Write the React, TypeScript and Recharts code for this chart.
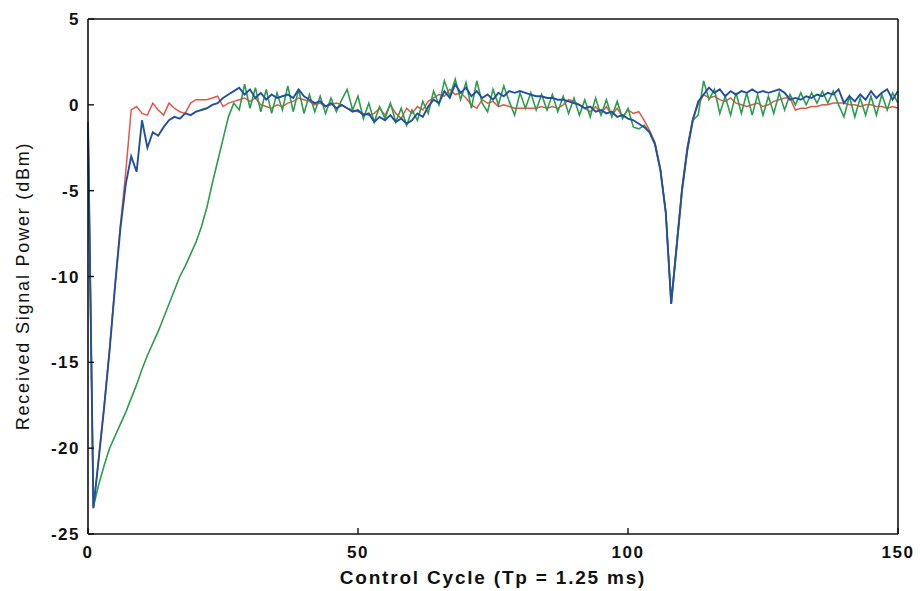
import React from 'react';
import { LineChart, Line, XAxis, YAxis } from 'recharts';

// received power per control cycle (dBm), cycles 0..150
const blue = [
  -1.0, -23.5, -20.6, -17.6, -14.3, -10.6, -7.2, -4.6, -3.0, -3.9,
  -0.9, -2.5, -1.6, -1.8, -1.3, -0.9, -0.7, -0.8, -0.5, -0.6,
  -0.4, -0.3, -0.2, 0.0, 0.1, 0.4, 0.6, 0.8, 1.0, 0.6,
  0.9, 0.4, 0.7, 0.3, 0.6, 0.4, 0.5, 0.6, 0.4, 0.9,
  0.5, 0.3, 0.1, 0.2, -0.1, 0.1, -0.2, 0.0, -0.2, -0.4,
  -0.3, -0.6, -0.5, -1.0, -0.7, -0.9, -0.6, -1.0, -0.8, -1.1,
  -0.9, -0.5, -0.7, -0.1, 0.3, 0.1, 0.8, 0.4, 1.2, 0.7,
  1.0, 0.5, 0.8, 0.4, 0.6, 0.3, 0.7, 0.5, 0.8, 0.7,
  0.8, 0.7, 0.6, 0.5, 0.5, 0.4, 0.4, 0.3, 0.3, 0.2,
  0.1, 0.0, -0.2, -0.1, -0.4, -0.3, -0.5, -0.4, -0.7, -0.6,
  -0.8, -0.9, -1.1, -1.3, -1.6, -2.3, -3.8, -6.3, -11.6, -8.3,
  -5.0, -2.6, -0.9, 0.2, 0.6, 1.0, 0.7, 0.9, 0.5, 0.8,
  0.6, 0.8, 0.7, 0.9, 0.7, 0.8, 0.7, 0.8, 0.9, 0.7,
  0.3, 0.4, 0.3, 0.5, 0.4, 0.6, 0.5, 0.7, 0.6, 0.9,
  0.1, 0.5, 0.2, 0.6, 0.3, 0.8, 0.4, 0.7, 0.9, 0.3,
  0.8,
];

const red = [
  -1.0, -23.5, -20.5, -17.5, -14.2, -10.5, -7.0, -3.9, -0.3, -0.1,
  -0.5, -0.6, 0.1, -0.3, -0.6, 0.1, -0.2, -0.4, -0.5, 0.1,
  0.3, 0.3, 0.3, 0.4, 0.5, -0.1, 0.1, 0.2, 0.3, 0.4,
  0.2, 0.4, 0.0, -0.1, -0.2, 0.0, -0.1, 0.1, 0.2, 0.4,
  0.3, 0.2, 0.0, 0.1, -0.1, 0.0, 0.1, 0.0, -0.2, -0.3,
  -0.4, -0.5, -0.6, -0.5, -0.2, -0.6, 0.0, -0.5, -0.8, -0.2,
  -0.5, -0.1, -0.3, 0.2, 0.4, 0.6, 0.5, 0.9, 0.6, 0.7,
  0.4, 0.0, -0.2, 0.3, 0.1, 0.2, -0.1, 0.0, -0.1, -0.2,
  -0.2, -0.2, -0.2, -0.2, -0.1, -0.2, -0.1, -0.2, 0.0, 0.3,
  0.2, 0.0, -0.2, -0.4, -0.1, -0.5, -0.1, -0.6, -0.2, -0.7,
  -0.3, -0.5, -0.4, -0.9, -1.5, -2.2, -3.7, -6.2, -11.4, -8.1,
  -4.8, -2.4, -0.8, 0.0, 0.6, 0.4, 0.5, 0.3, 0.2, 0.4,
  0.1, 0.0, -0.1, 0.0, 0.1, -0.1, 0.0, 0.2, 0.3, 0.4,
  0.4, -0.3, -0.2, -0.2, -0.1, -0.1, 0.0, 0.0, 0.1, 0.1,
  0.1, 0.0, 0.0, -0.1, 0.0, 0.0, -0.1, -0.1, -0.2, -0.1,
  -0.2,
];

const green = [
  -1.0, -23.4, -22.1, -21.0, -20.0, -19.3, -18.6, -17.9, -17.1, -16.3,
  -15.4, -14.6, -13.9, -13.2, -12.4, -11.6, -10.8, -10.0, -9.4, -8.7,
  -8.0, -7.1, -6.0, -4.6, -3.3, -2.0, -0.7, 0.1, -0.3, 1.2,
  -0.2, 1.0, -0.4, 0.9, -0.5, 0.7, -0.3, 1.1, -0.4, 0.9,
  -0.5, 0.6, -0.4, 0.5, -0.5, 0.4, -0.4, 0.3, 0.9, -0.3,
  0.5, -0.8, 0.1, -1.0, -0.1, -0.8, 0.1, -1.0, -0.2, -1.2,
  -0.3, -0.9, 0.2, -0.5, 0.8, 0.0, 1.4, 0.5, 1.5, 0.3,
  1.3, -0.2, 1.4, 0.1, -0.4, 0.9, 0.0, 1.1, 0.2, -0.6,
  0.7, -0.2, 0.7, -0.3, 0.6, -0.3, 0.6, -0.4, 0.5, -0.5,
  0.4, -0.6, 0.3, -0.7, 0.4, -0.6, 0.3, -0.7, 0.2, -0.8,
  -0.2, -1.3, -1.4, -1.2, -1.6, -2.3, -3.8, -6.3, -11.6, -8.3,
  -5.0, -2.6, -0.9, -0.6, 1.4, 0.3, 0.9, -0.5, 0.5, -0.6,
  0.7, -0.5, 0.7, -0.6, 0.6, -0.6, 0.5, -0.5, 0.7, -0.3,
  0.6, 0.0, 0.7, 0.0, 0.7, 0.1, 0.8, 0.1, 0.8, 0.0,
  -0.7, 0.5, -0.7, 0.4, -0.6, 0.5, -0.6, 0.6, -0.3, 0.7,
  0.1,
];

const xTicks = [0, 50, 100, 150];
const yTicks = [-25, -20, -15, -10, -5, 0, 5];

const data = blue.map((b, i) => ({ cycle: i, blue: b, red: red[i], green: green[i] }));

const tickFont = { fontFamily: 'Liberation Sans, Arial, sans-serif', fontSize: 17, fontWeight: 700, fill: '#111', letterSpacing: 1.5 };

const YLabel = () => (
  <text
    x={23}
    y={286}
    transform="rotate(-90 23 286)"
    textAnchor="middle"
    dominantBaseline="central"
    style={{ fontFamily: 'Liberation Sans, Arial, sans-serif', fontSize: 18, fill: '#111', letterSpacing: 1.8 }}
  >
    Received Signal Power (dBm)
  </text>
);

const XLabel = () => (
  <text
    x={493}
    y={577}
    textAnchor="middle"
    dominantBaseline="central"
    style={{ fontFamily: 'Liberation Sans, Arial, sans-serif', fontSize: 19, fontWeight: 700, fill: '#111', letterSpacing: 1.8 }}
  >
    Control Cycle (Tp = 1.25 ms)
  </text>
);

export default function App() {
  return (
    <div style={{ position: 'absolute', left: 0, top: 0, width: 920, height: 591, background: '#fff' }}>
      <LineChart width={920} height={591} data={data} margin={{ top: 18, right: 21, bottom: 27, left: 28 }}>
        <XAxis
          xAxisId="bottom"
          dataKey="cycle"
          type="number"
          domain={[0, 150]}
          ticks={xTicks}
          height={30}
          tickSize={-6}
          tickMargin={18}
          tick={tickFont}
          axisLine={{ stroke: '#111', strokeWidth: 1.6 }}
          tickLine={{ stroke: '#111', strokeWidth: 1.4 }}
          label={<XLabel />}
        />
        <XAxis
          xAxisId="top"
          orientation="top"
          dataKey="cycle"
          type="number"
          domain={[0, 150]}
          ticks={xTicks}
          height={1}
          tickSize={-6}
          tick={false}
          axisLine={{ stroke: '#111', strokeWidth: 1.6 }}
          tickLine={{ stroke: '#111', strokeWidth: 1.4 }}
        />
        <YAxis
          yAxisId="left"
          type="number"
          domain={[-25, 5]}
          ticks={yTicks}
          width={60}
          tickSize={-6}
          tickMargin={14}
          tick={tickFont}
          axisLine={{ stroke: '#111', strokeWidth: 1.6 }}
          tickLine={{ stroke: '#111', strokeWidth: 1.4 }}
          label={<YLabel />}
        />
        <YAxis
          yAxisId="right"
          orientation="right"
          type="number"
          domain={[-25, 5]}
          ticks={yTicks}
          width={1}
          tickSize={-6}
          tick={false}
          axisLine={{ stroke: '#111', strokeWidth: 1.6 }}
          tickLine={{ stroke: '#111', strokeWidth: 1.4 }}
        />
        <Line xAxisId="bottom" yAxisId="left" type="linear" dataKey="red" stroke="#e2574a" strokeWidth={1.5} dot={false} isAnimationActive={false} />
        <Line xAxisId="bottom" yAxisId="left" type="linear" dataKey="green" stroke="#2a9e4c" strokeWidth={1.6} dot={false} isAnimationActive={false} />
        <Line xAxisId="bottom" yAxisId="left" type="linear" dataKey="blue" stroke="#22509e" strokeWidth={1.9} dot={false} isAnimationActive={false} />
      </LineChart>
    </div>
  );
}
